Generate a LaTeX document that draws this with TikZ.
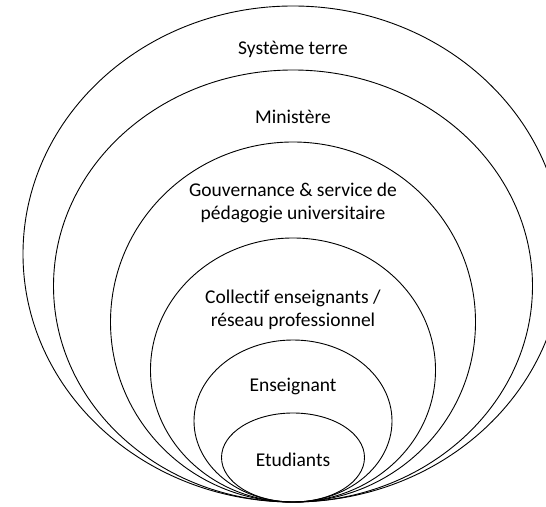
\documentclass[tikz,border=0pt]{standalone}
\usepackage{fontspec}
\setmainfont{Carlito}[Ligatures=NoCommon]
\usetikzlibrary{shapes.geometric}

\begin{document}
\begin{tikzpicture}[x=1pt, y=1pt,
    ring/.style={ellipse, draw, line width=0.9pt, inner sep=0pt, outer sep=0pt},
    lbl/.style={align=center, inner sep=0pt, font=\fontsize{19.5}{23}\selectfont}]
    \useasboundingbox (0,0) rectangle (546,506);
    \def\xmid{293}
    % nested rings, all touching at the bottom
    \node(terre) [ring, minimum width=540pt, minimum height=496pt] at (\xmid,252) {};
    \node(ministere) [ring, minimum width=479pt, minimum height=432pt] at (\xmid,220) {};
    \node(gouv) [ring, minimum width=365pt, minimum height=360pt] at (\xmid,184) {};
    \node(collectif) [ring, minimum width=285pt, minimum height=264pt] at (\xmid,136) {};
    \node(enseignant) [ring, minimum width=198pt, minimum height=162pt] at (\xmid,85) {};
    \node(etudiants) [ring, minimum width=143pt, minimum height=89pt] at (\xmid,48.5) {};

    % labels
    \node(lTerre) [lbl] at (\xmid,457) {Système terre};
    \node(lMinistere) [lbl] at (\xmid,389) {Ministère};
    \node(lGouv) [lbl] at (\xmid,303.5) {Gouvernance \& service de\\pédagogie universitaire};
    \node(lCollectif) [lbl] at (\xmid,196) {Collectif enseignants /\\réseau professionnel};
    \node(lEnseignant) [lbl] at (\xmid,120) {Enseignant};
    \node(lEtudiants) [lbl] at (\xmid,46) {Etudiants};
\end{tikzpicture}
\end{document}
